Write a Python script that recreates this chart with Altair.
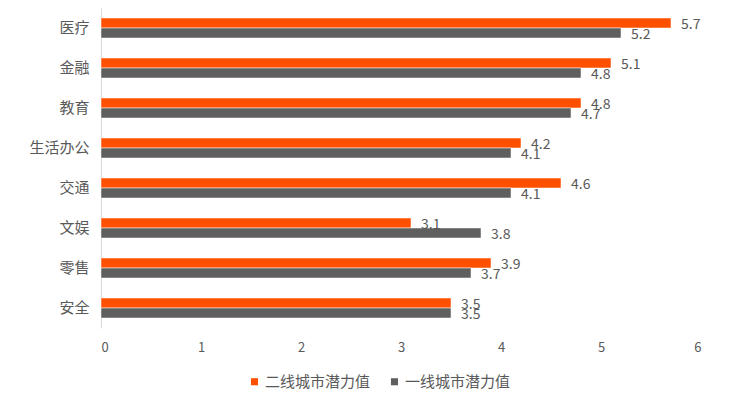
import altair as alt
import pandas as pd

categories = ["医疗", "金融", "教育", "生活办公", "交通", "文娱", "零售", "安全"]
series_names = ["二线城市潜力值", "一线城市潜力值"]
tier2 = [5.7, 5.1, 4.8, 4.2, 4.6, 3.1, 3.9, 3.5]
tier1 = [5.2, 4.8, 4.7, 4.1, 4.1, 3.8, 3.7, 3.5]
colors = ["#FF5000", "#5F5F5F"]

rows = []
for c, a, b in zip(categories, tier2, tier1):
    rows.append({"cat": c, "series": series_names[0], "value": a})
    rows.append({"cat": c, "series": series_names[1], "value": b})
df = pd.DataFrame(rows)

FONT = "Noto Sans CJK SC"

y = alt.Y("cat:N", sort=categories, title=None,
          scale=alt.Scale(paddingInner=0.5, paddingOuter=0.25),
          axis=alt.Axis(domainColor="#D9D9D9", ticks=False, labelPadding=12,
                        labelFontSize=15, labelColor="#595959", labelFont=FONT))
yoff = alt.YOffset("series:N", sort=series_names)
x = alt.X("value:Q", title=None,
          scale=alt.Scale(domain=[0, 6]),
          axis=alt.Axis(values=[0, 1, 2, 3, 4, 5, 6], domain=False, ticks=False, grid=False,
                        labelPadding=13, labelFontSize=13, labelColor="#595959", labelFont=FONT))
color = alt.Color("series:N", sort=series_names,
                  scale=alt.Scale(domain=series_names, range=colors),
                  legend=alt.Legend(title=None, orient="none", direction="horizontal",
                                    legendX=146, legendY=366, symbolType="square",
                                    symbolSize=50, labelFontSize=15, labelColor="#595959",
                                    labelFont=FONT, labelOffset=3, columnPadding=16,
                                    symbolStrokeWidth=0))

base = alt.Chart(df).encode(y=y, yOffset=yoff, x=x)
bars = base.mark_bar(stroke="white", strokeWidth=0.5).encode(color=color)
text = base.mark_text(align="left", baseline="middle", dx=10, dy=2, fontSize=14,
                      color="#595959", font=FONT).encode(text=alt.Text("value:Q", format=".1f"))

chart = (bars + text).properties(
    width=600, height=320,
    autosize=alt.AutoSizeParams(type="none"),
    padding={"left": 93, "top": 0, "right": 41, "bottom": 62},
).configure(font=FONT, view={"stroke": None})

chart.save("out.html", embed_options={"renderer": "svg", "actions": False})
